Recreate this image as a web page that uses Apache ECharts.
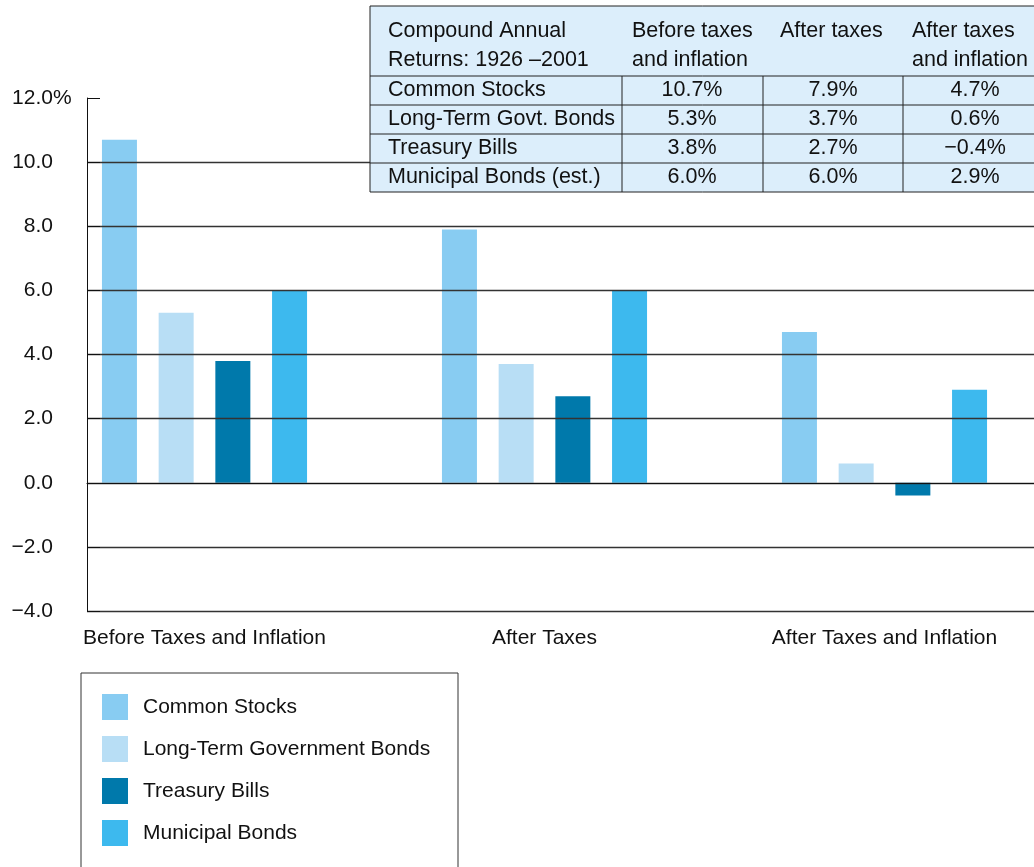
<!DOCTYPE html>
<html>
<head>
<meta charset="utf-8">
<script src="https://cdn.jsdelivr.net/npm/echarts@6/dist/echarts.min.js"></script>
<style>
html,body{margin:0;padding:0;background:#fff;}
#chart{width:1034px;height:867px;}
</style>
</head>
<body>
<div id="chart"></div>
<script>
// ---- data ----
const categories = ['Before Taxes and Inflation', 'After Taxes', 'After Taxes and Inflation'];
const seriesNames = ['Common Stocks', 'Long-Term Government Bonds', 'Treasury Bills', 'Municipal Bonds'];
const commonStocks = [10.7, 7.9, 4.7];
const longTermBonds = [5.3, 3.7, 0.6];
const treasuryBills = [3.8, 2.7, -0.4];
const municipalBonds = [6.0, 6.0, 2.9];
const yTickValues = [-4, -2, 0, 2, 4, 6, 8, 10, 12];
const yTickLabels = ['\u22124.0', '\u22122.0', '0.0', '2.0', '4.0', '6.0', '8.0', '10.0', '12.0'];
const tableHeader = ['Compound Annual\nReturns: 1926 \u20132001', 'Before taxes\nand inflation', 'After taxes', 'After taxes\nand inflation'];
const tableRowLabels = ['Common Stocks', 'Long-Term Govt. Bonds', 'Treasury Bills', 'Municipal Bonds (est.)'];

// ---- style ----
const FONT = '"Liberation Sans", Arial, Helvetica, sans-serif';
const FS = 21;
const TFS = 21.5;
const colors = ['#88CCF2', '#B8DEF5', '#0079AB', '#3DB9EE'];
const allSeries = [commonStocks, longTermBonds, treasuryBills, municipalBonds];

function fmtPct(v) {
  const s = Math.abs(v).toFixed(1) + '%';
  return v < 0 ? '\u2212' + s : s;
}

// ---- table graphic ----
const tX = 370, tY = 6, tRight = 1060;
const colX = [370, 622, 763, 903];
const headerBottom = 76, rowH = 29;
const headerLeft = [388, 632, 780, 912];
const valueCenters = [692, 833, 975];
const graphics = [];
const tBottom = headerBottom + rowH * tableRowLabels.length;
graphics.push({type:'rect', z:10, shape:{x:tX, y:tY, width:tRight - tX, height:tBottom - tY},
  style:{fill:'#DCEEFB', stroke:'#222', lineWidth:1}});
for (let i = 0; i < tableRowLabels.length; i++) {
  const y = headerBottom + i * rowH;
  graphics.push({type:'line', z:11, shape:{x1:tX, y1:y, x2:tRight, y2:y}, style:{stroke:'#222', lineWidth:1}});
}
for (let c = 1; c < colX.length; c++) {
  graphics.push({type:'line', z:11, shape:{x1:colX[c], y1:headerBottom, x2:colX[c], y2:tBottom}, style:{stroke:'#222', lineWidth:1}});
}
tableHeader.forEach((h, c) => {
  h.split('\n').forEach((line, k) => {
    graphics.push({type:'text', z:12, style:{text:line, x:headerLeft[c], y:31 + k * 29,
      fill:'#111', font: TFS + 'px ' + FONT, textAlign:'left', textVerticalAlign:'middle'}});
  });
});
tableRowLabels.forEach((lab, r) => {
  const cy = headerBottom + r * rowH + rowH / 2;
  graphics.push({type:'text', z:12, style:{text:lab, x:388, y:cy, fill:'#111', font: TFS + 'px ' + FONT,
    textAlign:'left', textVerticalAlign:'middle'}});
  allSeries[r].forEach((v, c) => {
    graphics.push({type:'text', z:12, style:{text:fmtPct(v), x:valueCenters[c], y:cy, fill:'#111',
      font: TFS + 'px ' + FONT, textAlign:'center', textVerticalAlign:'middle'}});
  });
});
// legend frame (open at the bottom, running off the page)
graphics.push({type:'rect', z:1, shape:{x:81, y:673, width:377, height:230},
  style:{fill:'none', stroke:'#333', lineWidth:1}});

const chart = echarts.init(document.getElementById('chart'));
const option = {
  backgroundColor: '#fff',
  animation: false,
  textStyle: {fontFamily: FONT},
  grid: [
    {left: 87, right: 0, top: 98, bottom: 256},
    {left: 204.5, width: 680, top: 98, bottom: 256}
  ],
  xAxis: [
    {gridIndex: 0, type: 'category', data: [''], z: 3,
      axisLine: {show: true, lineStyle: {color: '#111', width: 1}},
      axisTick: {show: false}, axisLabel: {show: false}, splitLine: {show: false}},
    {gridIndex: 1, type: 'category', data: categories, boundaryGap: false,
      axisLine: {show: false}, axisTick: {show: false},
      axisLabel: {fontSize: FS, color: '#111', margin: 17, fontFamily: FONT}}
  ],
  yAxis: [
    {gridIndex: 0, type: 'value', min: -4, max: 12, interval: 2, z: 3,
      axisLine: {show: true, lineStyle: {color: '#111', width: 1}},
      axisTick: {show: true, inside: true, length: 13, lineStyle: {color: '#111', width: 1}},
      splitLine: {show: true, showMaxLine: false, lineStyle: {color: '#333', width: 1.4}},
      axisLabel: {
        align: 'left', margin: 75, color: '#111', fontSize: FS, fontFamily: FONT,
        formatter: function (v) {
          const idx = yTickValues.indexOf(v);
          const t = idx >= 0 ? yTickLabels[idx] : '';
          return '{v|' + t + '}' + (v === 12 ? '%' : '');
        },
        rich: {v: {width: 41, align: 'right', fontSize: FS, color: '#111', fontFamily: FONT}}
      }},
    {gridIndex: 1, type: 'value', min: -4, max: 12, interval: 2, show: false,
      splitLine: {show: false}}
  ],
  legend: {
    orient: 'vertical', left: 102, top: 694,
    padding: 0,
    itemWidth: 26, itemHeight: 26, itemGap: 16,
    icon: 'rect',
    textStyle: {fontSize: FS, color: '#111', fontFamily: FONT, padding: [0, 0, 0, 10]},
    data: seriesNames
  },
  series: seriesNames.map((name, i) => ({
    name: name, type: 'bar', xAxisIndex: 1, yAxisIndex: 1,
    data: allSeries[i], barWidth: 35, barGap: '62%',
    itemStyle: {color: colors[i]}, z: 2
  })),
  graphic: graphics
};
chart.setOption(option);
</script>
</body>
</html>
